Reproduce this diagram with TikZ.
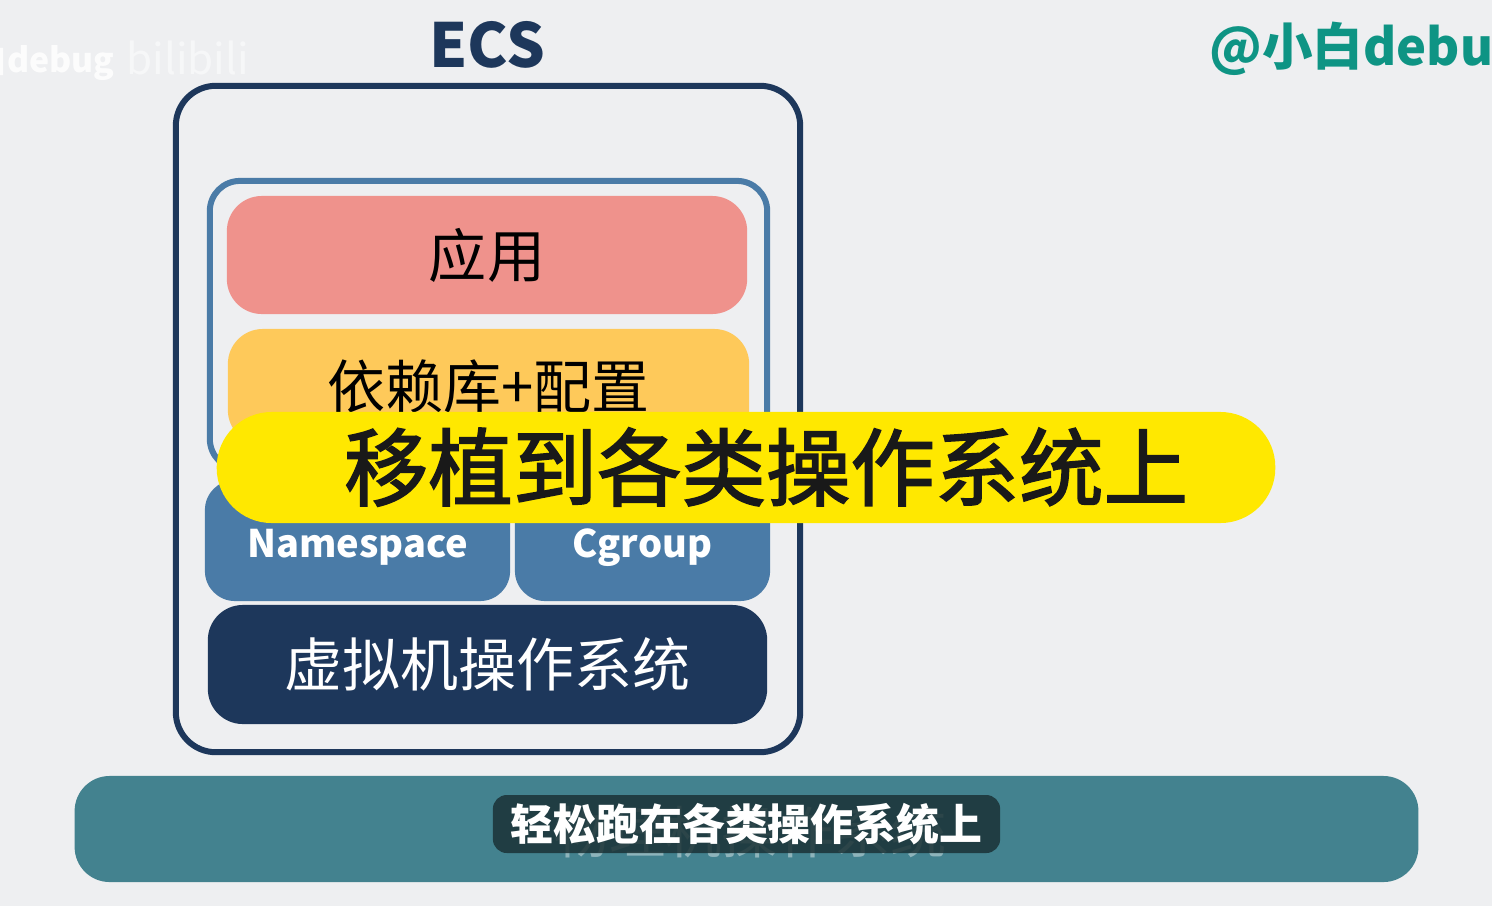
\documentclass[tikz,border=0pt]{standalone}
\usepackage{fontspec}
\setmainfont{Noto Sans CJK SC}
\newfontfamily\mediumcjk[FakeBold=2]{Noto Sans CJK SC}
\definecolor{pagegray}{RGB}{238,239,241}
\definecolor{ecsnavy}{RGB}{29,55,91}
\definecolor{steelblue}{RGB}{74,123,167}
\definecolor{apppink}{RGB}{239,146,140}
\definecolor{depyellow}{RGB}{254,201,90}
\definecolor{banneryellow}{RGB}{255,232,0}
\definecolor{hostteal}{RGB}{67,130,143}
\definecolor{subdark}{RGB}{27,50,54}
\definecolor{markteal}{RGB}{14,148,132}
\usetikzlibrary{positioning}

\begin{document}
\begin{tikzpicture}[x=0.01cm, y=-0.01cm,
    layer/.style={rectangle, rounded corners=0.35cm, inner sep=0pt, align=center},
    bigtext/.style={font=\fontsize{16.5}{18}\selectfont},
    labeltext/.style={font=\fontsize{10.8}{13}\selectfont\bfseries, text=white},
    frame/.style={rectangle, draw, line width=0.06cm, inner sep=0pt}]
    % page
    \fill[pagegray] (0,0) rectangle (1492,906);
    \useasboundingbox (0,0) rectangle (1492,906);

    % watermarks
    \node[anchor=east, text=white, opacity=0.85, font=\fontsize{9.6}{11}\selectfont\bfseries] (markleft) at (127,62) {小白debug};
    \node[anchor=west, text=white, opacity=0.5, font=\fontsize{12}{13}\selectfont\itshape] (bililogo) at (114,58) {bilibili};
    \node[anchor=west, text=markteal, font=\fontsize{14.4}{16}\selectfont\bfseries] (markright) at (1197,50) {@小白debug};

    % ECS host
    \node[text=ecsnavy, font=\fontsize{17.3}{20}\selectfont\bfseries] (ecstitle) at (487,45) {ECS};
    \node[frame, draw=ecsnavy, rounded corners=0.4cm, minimum width=6.24cm, minimum height=6.66cm] (ecs) at (488,419) {};
    \node[frame, draw=steelblue, rounded corners=0.3cm, minimum width=5.57cm, minimum height=2.88cm] (image) at (488.5,325) {};

    % layers
    \node[layer, fill=apppink, minimum width=5.2cm, minimum height=1.18cm, bigtext] (app) at (487,255) {应用};
    \node[layer, fill=depyellow, minimum width=5.21cm, minimum height=1.16cm, bigtext] (deps) at (488.5,387) {依赖库+配置};
    \node[layer, fill=steelblue, rounded corners=0.3cm, minimum width=3.05cm, minimum height=1.21cm, labeltext] (ns) at (357.5,540.5) {\raisebox{0pt}[0.33cm][0pt]{Namespace}};
    \node[layer, fill=steelblue, rounded corners=0.3cm, minimum width=2.55cm, minimum height=1.21cm, labeltext] (cg) at (642.5,540.5) {\raisebox{0pt}[0.33cm][0pt]{Cgroup}};
    \node[layer, fill=ecsnavy, minimum width=5.59cm, minimum height=1.19cm, bigtext, text=white] (vmos) at (487.5,664.5) {虚拟机操作系统};

    % caption banner
    \node[layer, fill=banneryellow, rounded corners=0.55cm, minimum width=10.58cm, minimum height=1.11cm] (port) at (746,467.5) {};
    \node[font=\fontsize{24}{26}\selectfont\mediumcjk, text=black!90] (porttext) at (766,467) {移植到各类操作系统上};

    % physical host
    \node[layer, fill=hostteal, minimum width=13.43cm, minimum height=1.06cm] (host) at (746.5,829) {};
    \node[text=white, opacity=0.4, font=\fontsize{16}{18}\selectfont] (hosttext) at (750,832) {物理机操作系统};
    \node[layer, fill=subdark, fill opacity=0.85, rounded corners=0.14cm, minimum width=5.07cm, minimum height=0.58cm] (subbox) at (746.5,824) {};
    \node[text=white, font=\fontsize{12.2}{14}\selectfont\bfseries] (subtext) at (746.5,824) {轻松跑在各类操作系统上};
\end{tikzpicture}
\end{document}
